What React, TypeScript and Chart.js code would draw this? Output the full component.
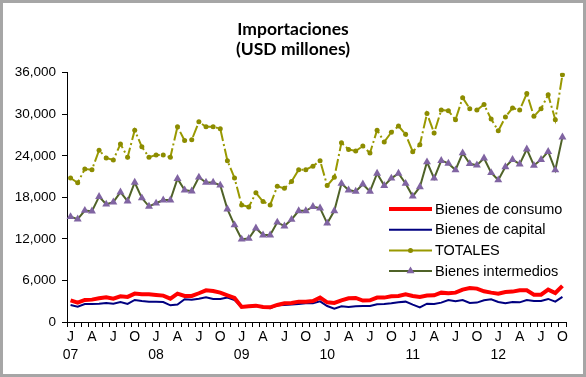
import React, { useEffect, useRef } from 'react';
import { Chart, registerables } from 'chart.js';

Chart.register(...registerables);

// ---- Data (Jan 2007 .. Oct 2012, monthly) ----
const YEARS = ['07', '08', '09', '10', '11', '12'];
const MONTH_INITIALS = ['J', 'F', 'M', 'A', 'M', 'J', 'J', 'A', 'S', 'O', 'N', 'D'];
const LABELED_MONTHS = [0, 3, 6, 9];
const MONTH_COUNT = 70;

const bienesConsumo = [
  3130, 2800, 3180, 3230, 3420, 3570, 3370, 3710, 3620, 4100, 4000, 4000,
  3900, 3810, 3370, 4100, 3760, 3760, 4150, 4580, 4480, 4240, 3860, 3470,
  2170, 2270, 2360, 2170, 2120, 2460, 2700, 2750, 2940, 2940, 3040, 3520,
  2840, 2750, 3130, 3420, 3470, 3090, 3130, 3520, 3520, 3710, 3760, 4000,
  3760, 3620, 3810, 3860, 4240, 4150, 4240, 4680, 4920, 4820, 4430, 4240,
  4100, 4340, 4390, 4580, 4580, 3950, 3950, 4680, 4190, 5210,
];

const bienesCapital = [
  2460, 2220, 2600, 2600, 2650, 2750, 2650, 2890, 2600, 3180, 3040, 2940,
  2940, 2890, 2410, 2510, 3280, 3230, 3370, 3570, 3330, 3330, 3520, 3180,
  2170, 2270, 2310, 2170, 1980, 2410, 2460, 2510, 2600, 2700, 2700, 2990,
  2310, 1930, 2270, 2170, 2270, 2310, 2310, 2560, 2600, 2700, 2840, 2940,
  2510, 2120, 2650, 2600, 2800, 3180, 2990, 3180, 2750, 2800, 3130, 3280,
  2890, 2700, 2890, 2840, 3180, 3040, 3040, 3330, 2940, 3620,
];

const totales = [
  20800, 20100, 22100, 22000, 24800, 23700, 23400, 25700, 23800, 27700, 25300, 23800,
  24100, 24100, 23800, 28200, 26200, 26300, 28900, 28200, 28200, 27900, 23300, 20800,
  16900, 16600, 18650, 17400, 16900, 19600, 19300, 20300, 22000, 22000, 22500, 23300,
  19700, 20900, 25900, 24900, 24700, 25400, 24400, 27700, 26000, 27400, 28300, 27100,
  24600, 25600, 30100, 27300, 30600, 30500, 29200, 32400, 30800, 30600, 31400, 29300,
  27600, 29600, 30900, 30600, 33000, 29700, 30800, 32800, 29200, 35700,
];

const bienesIntermedios = [
  15200, 14850, 16100, 16000, 18100, 17000, 17300, 18750, 17450, 20150, 17900, 16700,
  17150, 17600, 17600, 20700, 19050, 18900, 20900, 20150, 20150, 19750, 16300, 14000,
  11950, 12050, 13550, 12550, 12550, 14400, 13850, 14800, 16050, 16050, 16650, 16450,
  14250, 16050, 20000, 19050, 18850, 19900, 18850, 21450, 19700, 20750, 21450, 20000,
  18150, 19500, 23100, 20750, 23300, 22900, 21950, 24400, 22850, 22650, 23650, 21550,
  20500, 22400, 23450, 22800, 24950, 22600, 23450, 24600, 21950, 26700,
];

const SERIES_NAMES = ['Bienes de consumo', 'Bienes de capital', 'TOTALES', 'Bienes intermedios'];
const Y_TICKS = [0, 6000, 12000, 18000, 24000, 30000, 36000];
const TITLE_LINES = ['Importaciones', '(USD millones)'];

// category labels: [monthInitial, year] built from the lists above
const CATEGORIES: string[][] = [];
for (let i = 0; i < MONTH_COUNT; i++) {
  const m = i % 12;
  const y = YEARS[Math.floor(i / 12)];
  CATEGORIES.push(m === 0 ? [MONTH_INITIALS[m], y] : [MONTH_INITIALS[m]]);
}

const AXIS_FONT = '"Liberation Sans", Arial, sans-serif';

const framePlugin = {
  id: 'frame',
  beforeDraw(chart: any) {
    const { ctx, width, height } = chart;
    ctx.save();
    ctx.fillStyle = '#ffffff';
    ctx.fillRect(0, 0, width, height);
    ctx.restore();
  },
  afterDraw(chart: any) {
    const { ctx, width, height } = chart;
    ctx.save();
    ctx.strokeStyle = '#a6a6a6';
    ctx.lineWidth = 3;
    ctx.strokeRect(1.5, 1.5, width - 3, height - 3);
    // title
    ctx.fillStyle = '#000';
    ctx.font = 'bold 17.5px Lato, "Open Sans", sans-serif';
    ctx.textAlign = 'center';
    ctx.textBaseline = 'alphabetic';
    ctx.fillText(TITLE_LINES[0], width / 2, 35);
    ctx.fillText(TITLE_LINES[1], width / 2, 55);
    ctx.restore();
  },
};

const legendPlugin = {
  id: 'insideLegend',
  afterDatasetsDraw(chart: any) {
    const { ctx } = chart;
    const x0 = 389;
    const x1 = 432;
    const tx = 435;
    const ys = [209, 229.8, 250.5, 271];
    ctx.save();
    chart.data.datasets.forEach((ds: any, i: number) => {
      const y = ys[i];
      ctx.beginPath();
      ctx.setLineDash([]);
      ctx.strokeStyle = ds.borderColor;
      ctx.lineWidth = ds.borderWidth;
      ctx.moveTo(x0, y);
      ctx.lineTo(x1, y);
      ctx.stroke();
      if (ds.pointRadius > 0) {
        ctx.fillStyle = ds.pointBackgroundColor;
        const r = ds.pointRadius;
        const cx = (x0 + x1) / 2;
        ctx.beginPath();
        if (ds.pointStyle === 'triangle') {
          let rad = 0;
          ctx.moveTo(cx + Math.sin(rad) * r, y - Math.cos(rad) * r);
          rad += (2 * Math.PI) / 3;
          ctx.lineTo(cx + Math.sin(rad) * r, y - Math.cos(rad) * r);
          rad += (2 * Math.PI) / 3;
          ctx.lineTo(cx + Math.sin(rad) * r, y - Math.cos(rad) * r);
          ctx.closePath();
        } else {
          ctx.arc(cx, y, r, 0, Math.PI * 2);
        }
        ctx.fill();
      }
      ctx.fillStyle = '#000';
      ctx.font = `14.5px ${AXIS_FONT}`;
      ctx.textBaseline = 'middle';
      ctx.textAlign = 'left';
      ctx.fillText(ds.label, tx, y + 0.5);
    });
    ctx.restore();
  },
};

export default function App() {
  const canvasRef = useRef<HTMLCanvasElement | null>(null);

  useEffect(() => {
    if (!canvasRef.current) return;
    const chart = new Chart(canvasRef.current, {
      type: 'line',
      data: {
        labels: CATEGORIES,
        datasets: [
          {
            label: SERIES_NAMES[0],
            data: bienesConsumo,
            borderColor: '#ff0000',
            backgroundColor: '#ff0000',
            borderWidth: 4,
            pointRadius: 0,
            tension: 0,
          },
          {
            label: SERIES_NAMES[1],
            data: bienesCapital,
            borderColor: '#000080',
            backgroundColor: '#000080',
            borderWidth: 2,
            pointRadius: 0,
            tension: 0,
          },
          {
            label: SERIES_NAMES[2],
            data: totales,
            borderColor: '#999900',
            backgroundColor: '#999900',
            pointBackgroundColor: '#8c8c00',
            pointBorderColor: '#8c8c00',
            pointBorderWidth: 0,
            borderWidth: 2,
            borderDash: [12, 3, 2, 3],
            pointStyle: 'circle',
            pointRadius: 2.5,
            tension: 0,
          },
          {
            label: SERIES_NAMES[3],
            data: bienesIntermedios,
            borderColor: '#4f6228',
            backgroundColor: '#8064a2',
            pointBackgroundColor: '#8064a2',
            pointBorderColor: '#8064a2',
            pointBorderWidth: 0,
            borderWidth: 2,
            pointStyle: 'triangle',
            pointRadius: 4.6,
            tension: 0,
          },
        ],
      },
      options: {
        animation: false,
        responsive: false,
        maintainAspectRatio: false,
        layout: { padding: { left: 0, right: 20, top: 72.7, bottom: 0 } },
        plugins: {
          legend: { display: false },
          tooltip: { enabled: false },
          title: { display: false },
        },
        scales: {
          x: {
            type: 'category',
            offset: true,
            grid: {
              offset: true,
              drawOnChartArea: false,
              drawTicks: true,
              tickLength: 5,
              color: '#000',
            },
            border: { color: '#000', width: 1 },
            ticks: {
              autoSkip: false,
              maxRotation: 0,
              minRotation: 0,
              padding: 1,
              color: '#000',
              font: { family: AXIS_FONT, size: 14, lineHeight: 1.3 },
              callback: (_v: any, i: number) => {
                const lab = CATEGORIES[i];
                return LABELED_MONTHS.includes(i % 12) ? lab : '';
              },
            },
            afterFit: (scale: any) => {
              scale.height = 55;
            },
          },
          y: {
            min: 0,
            max: 36000,
            afterBuildTicks: (scale: any) => {
              scale.ticks = Y_TICKS.map((v) => ({ value: v }));
            },
            grid: {
              drawOnChartArea: false,
              drawTicks: true,
              tickLength: 5,
              color: '#000',
            },
            border: { color: '#000', width: 1 },
            ticks: {
              padding: 6,
              color: '#000',
              font: { family: AXIS_FONT, size: 13.5 },
              callback: (v: any) => Number(v).toLocaleString('en-US'),
            },
            afterFit: (scale: any) => {
              scale.width = 67;
            },
          },
        },
      },
      plugins: [framePlugin, legendPlugin],
    });
    return () => chart.destroy();
  }, []);

  return (
    <div style={{ position: 'absolute', left: 0, top: 0, width: 586, height: 377 }}>
      <canvas ref={canvasRef} width={586} height={377} style={{ display: 'block' }} />
    </div>
  );
}
